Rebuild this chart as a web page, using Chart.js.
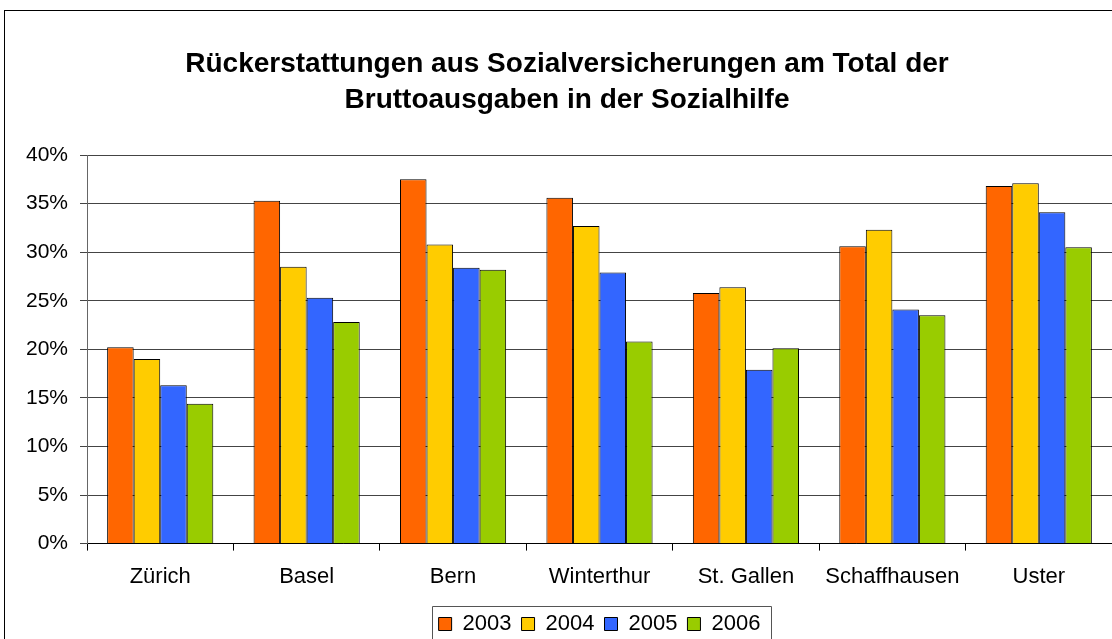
<!DOCTYPE html>
<html lang="de">
<head>
    <meta charset="UTF-8">
    <title>Rückerstattungen aus Sozialversicherungen</title>
    <script src="https://cdn.jsdelivr.net/npm/chart.js@4.4.1/dist/chart.umd.min.js"></script>
    <style>
        html, body { margin: 0; padding: 0; background: #fff; }
        #chart-container { width: 1112px; height: 639px; position: relative; }
    </style>
</head>
<body>
<div id="chart-container">
    <canvas id="chartCanvas"></canvas>
</div>

<script>
    // data (percent)
    const cities = ['Zürich', 'Basel', 'Bern', 'Winterthur', 'St. Gallen', 'Schaffhausen', 'Uster'];
    const years = ['2003', '2004', '2005', '2006'];
    const values2003 = [20.2, 35.3, 37.5, 35.6, 25.8, 30.6, 36.8];
    const values2004 = [19.0, 28.5, 30.8, 32.7, 26.4, 32.3, 37.1];
    const values2005 = [16.3, 25.3, 28.4, 27.9, 17.9, 24.1, 34.1];
    const values2006 = [14.4, 22.8, 28.2, 20.8, 20.1, 23.5, 30.5];
    const yTicks = [0, 5, 10, 15, 20, 25, 30, 35, 40];

    const colors = ['#FF6600', '#FFCC00', '#3366FF', '#99CC00'];
    const allValues = [values2003, values2004, values2005, values2006];
    const fontFamily = '"Liberation Sans", Arial, sans-serif';

    // outer frame + box round the legend
    const framePlugin = {
        id: 'frame',
        afterDraw(chart) {
            const c = chart.ctx;
            c.save();
            c.strokeStyle = '#000';
            c.lineWidth = 1;
            c.strokeRect(4.5, 10.5, 1200, 1000);
            const boxes = chart.legend.legendHitBoxes;
            if (boxes && boxes.length) {
                const first = boxes[0];
                const last = boxes[boxes.length - 1];
                const x1 = Math.round(first.left - 7) + 0.5;
                const x2 = Math.round(last.left + last.width + 11) + 0.5;
                const y1 = Math.round(first.top - 7) + 0.5;
                c.strokeStyle = '#555';
                c.beginPath();
                c.moveTo(x1, 700);
                c.lineTo(x1, y1);
                c.lineTo(x2, y1);
                c.lineTo(x2, 700);
                c.stroke();
            }
            c.restore();
        }
    };

    const ctx = document.getElementById('chartCanvas').getContext('2d');
    const myChart = new Chart(ctx, {
        type: 'bar',
        data: {
            labels: cities,
            datasets: years.map((y, i) => ({
                label: y,
                data: allValues[i],
                backgroundColor: colors[i],
                borderColor: '#000',
                borderWidth: 1,
                categoryPercentage: 0.725,
                barPercentage: 1.0
            }))
        },
        options: {
            responsive: true,
            maintainAspectRatio: false,
            animation: false,
            layout: { padding: { left: 22, right: 0, top: 0, bottom: -6 } },
            plugins: {
                title: {
                    display: true,
                    text: ['Rückerstattungen aus Sozialversicherungen am Total der',
                           'Bruttoausgaben in der Sozialhilfe'],
                    color: '#000',
                    font: { family: fontFamily, size: 28, weight: 'bold', lineHeight: 1.286 },
                    padding: { top: 46, bottom: 37 }
                },
                legend: {
                    position: 'bottom',
                    fullSize: false,
                    labels: {
                        color: '#000',
                        font: { family: fontFamily, size: 22 },
                        boxWidth: 13,
                        boxHeight: 13,
                        padding: 10
                    }
                },
                tooltip: { enabled: false }
            },
            scales: {
                x: {
                    grid: {
                        drawOnChartArea: false,
                        drawTicks: true,
                        tickLength: 7,
                        color: '#000',
                        offset: true
                    },
                    border: { color: '#000' },
                    ticks: {
                        color: '#000',
                        font: { family: fontFamily, size: 22 },
                        padding: 13,
                        maxRotation: 0
                    }
                },
                y: {
                    min: 0,
                    max: 40,
                    afterFit: (s) => { s.width = 65; },
                    afterBuildTicks: (s) => { s.ticks = yTicks.map(v => ({ value: v })); },
                    grid: {
                        color: '#444',
                        tickLength: 7
                    },
                    border: { color: '#666' },
                    ticks: {
                        color: '#000',
                        font: { family: fontFamily, size: 21 },
                        padding: 12,
                        callback: (v) => v + '%'
                    }
                }
            }
        },
        plugins: [framePlugin]
    });
</script>
</body>
</html>
